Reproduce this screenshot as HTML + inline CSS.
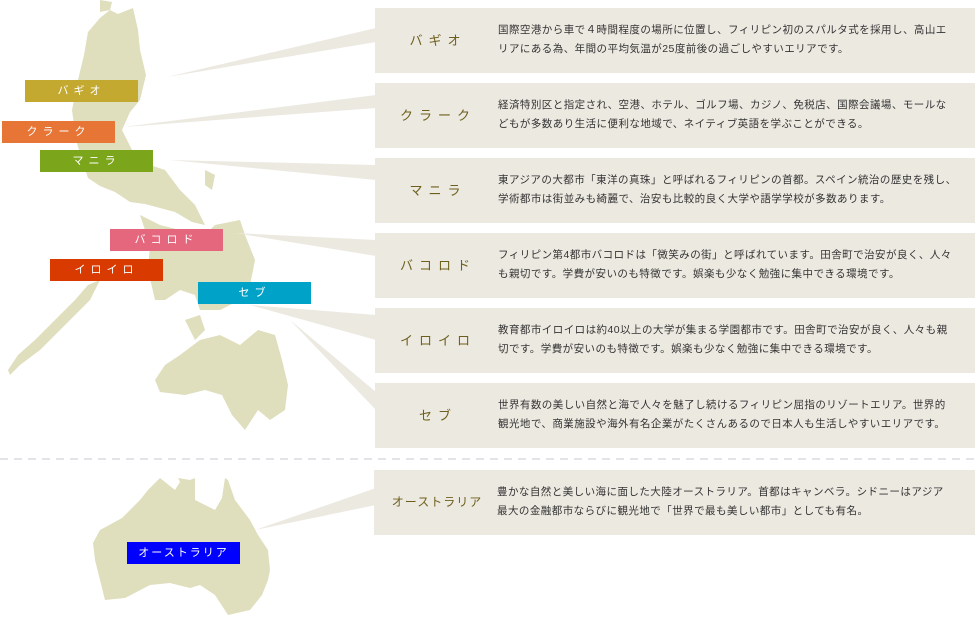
<!DOCTYPE html>
<html><head><meta charset="utf-8"><style>
body{margin:0;width:975px;height:630px;background:#fff;position:relative;overflow:hidden;font-family:"Liberation Sans","Noto Sans CJK JP",sans-serif}
.box{position:absolute;left:375px;width:600px;height:65px;background:#ece9e1}
.h{position:absolute;left:0;width:126px;top:0;height:65px;line-height:65px;text-align:center;color:#6e5f1c;font-size:13px;letter-spacing:6px}
.t{position:absolute;left:123px;top:13px;width:456px;font-size:10.5px;line-height:19px;color:#333;letter-spacing:0.45px}
.lb{position:absolute;height:22px;line-height:22px;text-align:center;color:#fff;font-size:11px;letter-spacing:5px;width:113px}
svg{position:absolute;left:0;top:0}
</style></head><body>
<svg width="975" height="630">
<g fill="#dfdebd">
<polygon points="88,32 100,18 110,10 118,14 133,8 138,30 140,50 146,75 140,100 130,112 122,130 132,150 150,165 165,170 180,190 195,205 205,225 192,222 175,212 160,208 145,204 130,202 115,192 100,186 88,178 82,160 76,140 72,110 78,80 84,55"/>
<polygon points="100,0 112,2 110,10 100,12"/>
<polygon points="140,215 160,225 180,230 200,240 215,225 240,220 245,235 255,260 250,285 240,300 220,310 200,310 195,295 180,290 165,300 155,300 148,270 150,245"/>
<polygon points="205,170 215,175 212,190 205,185"/>
<polygon points="100,280 90,300 70,320 55,335 40,350 20,365 10,375 8,370 18,355 35,340 55,320 75,300 88,285"/>
<polygon points="200,340 220,335 240,345 258,330 275,335 282,360 288,385 285,410 270,420 258,410 245,430 232,415 222,395 205,390 185,395 160,392 155,380 165,365 180,355"/>
<polygon points="185,320 200,315 205,330 195,340"/>
<polygon points="93,543 100,530 122,518 140,500 148,490 160,478 175,490 180,482 178,478 190,480 195,478 195,500 215,510 222,498 225,478 228,480 235,500 250,520 258,535 268,550 270,570 268,580 262,595 250,610 228,615 215,595 200,585 190,588 170,583 150,585 125,598 105,600 100,580 95,560"/>
</g>
<g fill="#ece9e1">
<polygon points="167,77 376,28 376,42"/>
<polygon points="123,127 376,95 376,108"/>
<polygon points="170,160 376,165 376,180"/>
<polygon points="235,233 376,240 376,256"/>
<polygon points="250,305 376,315 376,340"/>
<polygon points="290,320 376,392 376,410"/>
<polygon points="255,530 376,488 376,505"/>
</g>
<line x1="0" y1="459" x2="975" y2="459" stroke="#c8c8d0" stroke-width="1" stroke-dasharray="8,6"/>
</svg>
<div class="lb" style="left:25px;top:80px;background:#c3a92f">バギオ</div>
<div class="lb" style="left:2px;top:121px;background:#e67536">クラーク</div>
<div class="lb" style="left:40px;top:150px;background:#7ba51a">マニラ</div>
<div class="lb" style="left:110px;top:229px;background:#e4677e">バコロド</div>
<div class="lb" style="left:50px;top:259px;background:#d93a00">イロイロ</div>
<div class="lb" style="left:198px;top:282px;background:#00a2c8">セブ</div>
<div class="lb" style="left:127px;top:542px;background:#0000ff;letter-spacing:2px">オーストラリア</div>

<div class="box" style="top:8px"><div class="h">バギオ</div><div class="t">国際空港から車で４時間程度の場所に位置し、フィリピン初のスパルタ式を採用し、高山エリアにある為、年間の平均気温が25度前後の過ごしやすいエリアです。</div></div>
<div class="box" style="top:83px"><div class="h">クラーク</div><div class="t">経済特別区と指定され、空港、ホテル、ゴルフ場、カジノ、免税店、国際会議場、モールなどもが多数あり生活に便利な地域で、ネイティブ英語を学ぶことができる。</div></div>
<div class="box" style="top:158px"><div class="h">マニラ</div><div class="t" style="width:466px">東アジアの大都市「東洋の真珠」と呼ばれるフィリピンの首都。スペイン統治の歴史を残し、<br>学術都市は街並みも綺麗で、治安も比較的良く大学や語学学校が多数あります。</div></div>
<div class="box" style="top:233px"><div class="h">バコロド</div><div class="t">フィリピン第4都市バコロドは「微笑みの街」と呼ばれています。田舎町で治安が良く、人々も親切です。学費が安いのも特徴です。娯楽も少なく勉強に集中できる環境です。</div></div>
<div class="box" style="top:308px"><div class="h">イロイロ</div><div class="t">教育都市イロイロは約40以上の大学が集まる学園都市です。田舎町で治安が良く、人々も親切です。学費が安いのも特徴です。娯楽も少なく勉強に集中できる環境です。</div></div>
<div class="box" style="top:383px"><div class="h">セブ</div><div class="t">世界有数の美しい自然と海で人々を魅了し続けるフィリピン屈指のリゾートエリア。世界的観光地で、商業施設や海外有名企業がたくさんあるので日本人も生活しやすいエリアです。</div></div>
<div class="box" style="top:470px;left:374px;width:601px"><div class="h" style="letter-spacing:1px;font-size:12px">オーストラリア</div><div class="t">豊かな自然と美しい海に面した大陸オーストラリア。首都はキャンベラ。シドニーはアジア最大の金融都市ならびに観光地で「世界で最も美しい都市」としても有名。</div></div>
</body></html>
